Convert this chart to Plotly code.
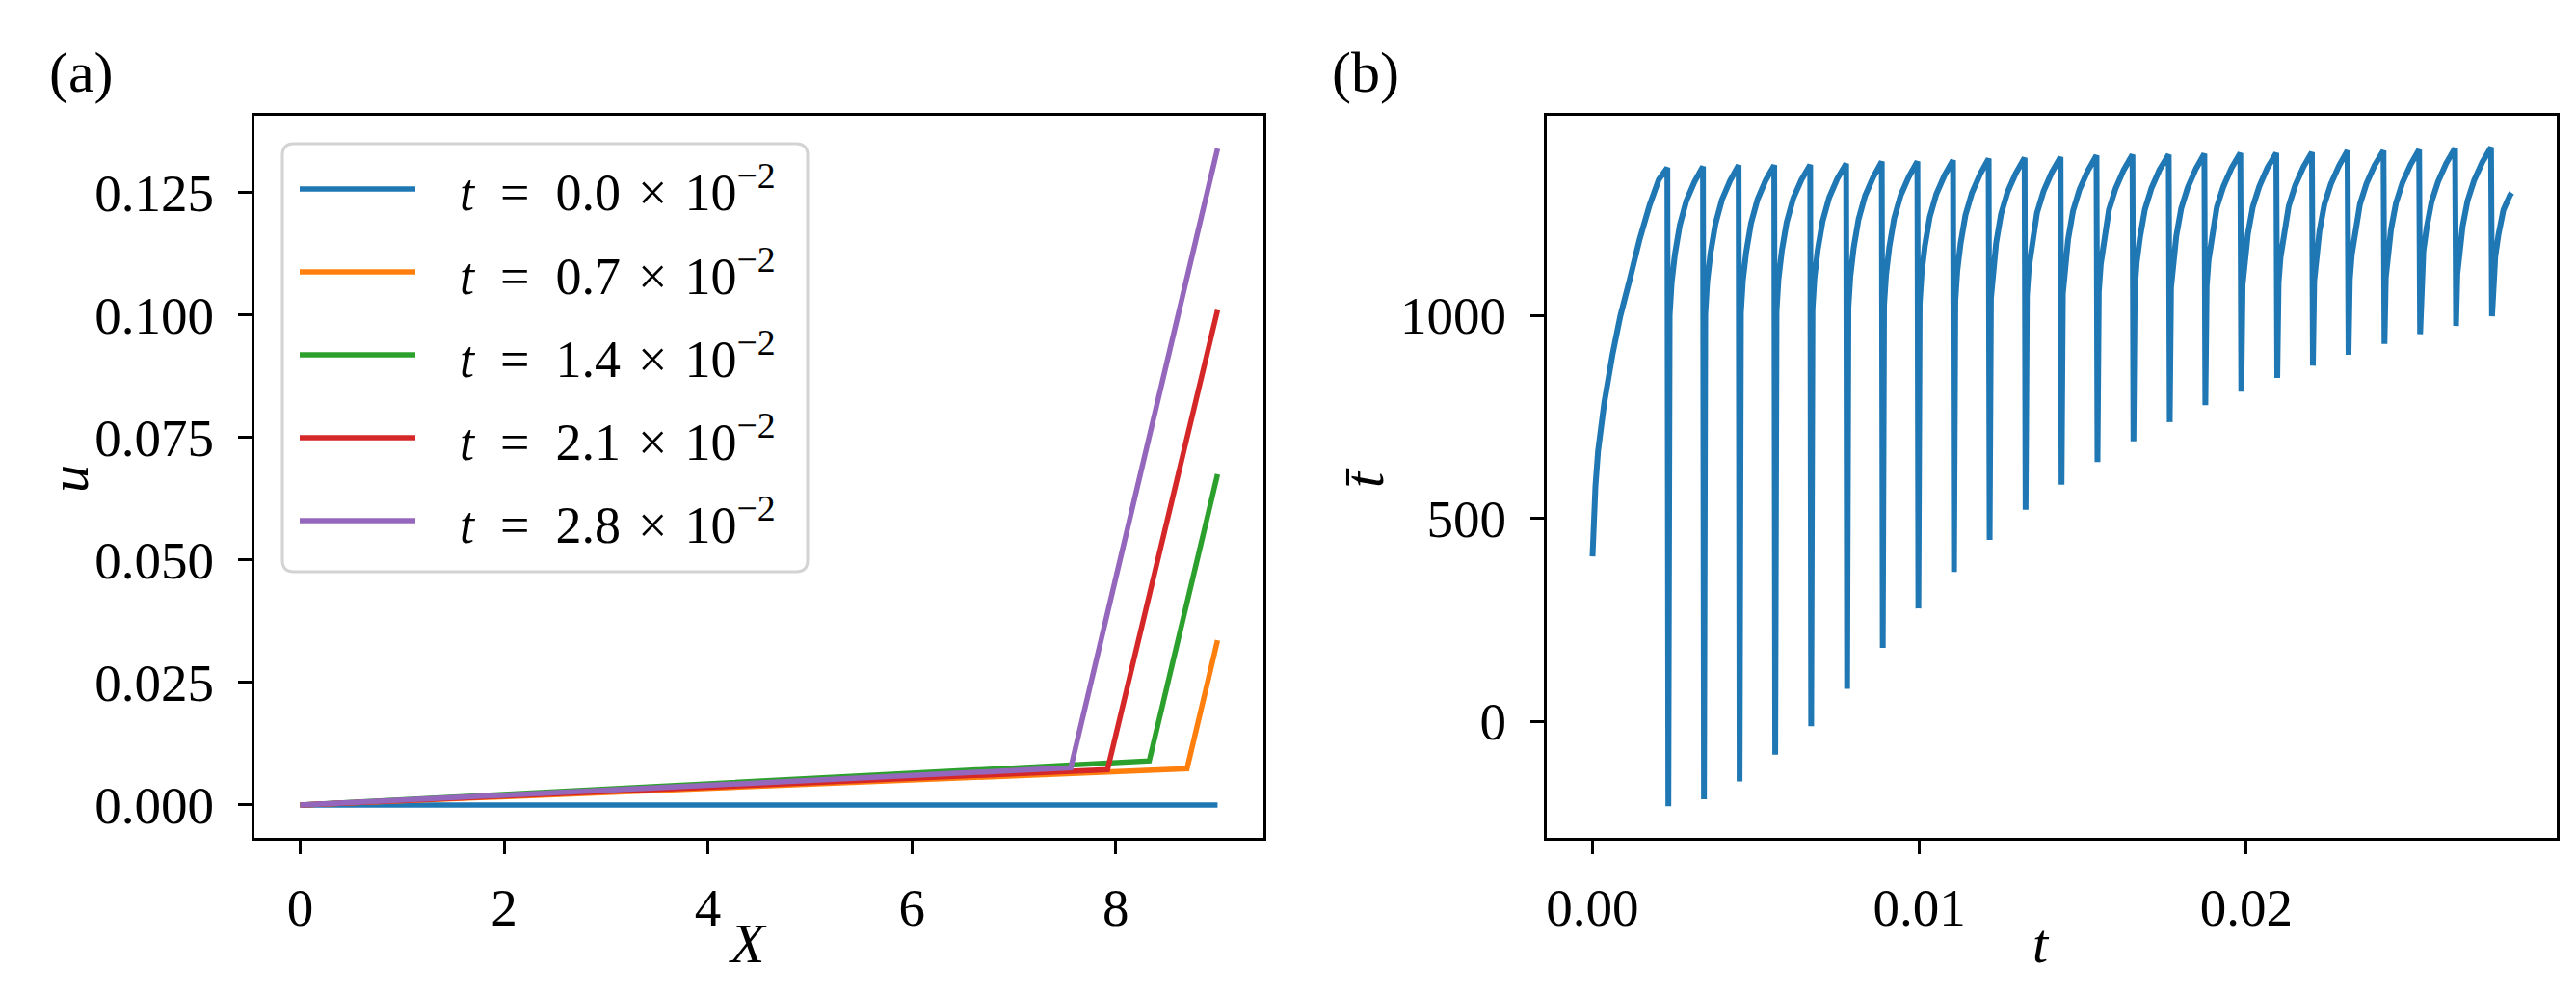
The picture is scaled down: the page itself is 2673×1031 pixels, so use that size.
import plotly.graph_objects as go

W, H = 2673, 1031

# ---- panel (a): u(X) profiles at five times ----
labels_a = ["0.0", "0.7", "1.4", "2.1", "2.8"]
colors = ["#1f77b4", "#ff7f0e", "#2ca02c", "#d62728", "#9467bd"]
X_knee = [4.50, 8.70, 8.33, 7.92, 7.56]
u_knee = [0.0, 0.0074, 0.0090, 0.0072, 0.0076]
X_end = 9.0
u_end = [0.0, 0.0336, 0.0675, 0.1010, 0.1340]

# ---- panel (b): t-bar(t) sawtooth ----
# first rise from t = 0
t_first = [0.0, 0.00004, 0.00009, 0.00017, 0.00036, 0.00061, 0.00085, 0.00115, 0.00144, 0.00174, 0.00203]
tbar_first = [406, 500, 580, 666, 785, 903, 998, 1092, 1187, 1270, 1335]
# drop (reset) times and the minimum reached at each drop
t_reset = [0.00232, 0.00341, 0.00450, 0.00559, 0.00669, 0.00779, 0.00888, 0.00997,
           0.01106, 0.01215, 0.01325, 0.01435, 0.01545, 0.01655, 0.01766, 0.01875,
           0.01985, 0.02095, 0.02204, 0.02313, 0.02423, 0.02532, 0.02642, 0.02752]
tbar_min = [-209, -192, -148, -82, -12, 80, 181, 278, 368, 447, 521, 583,
            639, 690, 737, 779, 812, 846, 876, 903, 930, 954, 974, 998]
# peak reached just before each drop
tbar_peak = [1364, 1367, 1370, 1370, 1371, 1374, 1379, 1379, 1382, 1386, 1388, 1390,
             1394, 1396, 1396, 1398, 1400, 1400, 1402, 1406, 1406, 1408, 1412, 1414]
# rise after each reset, sampled at these delays
rise_dt = [0.00004, 0.00010, 0.00020, 0.00035, 0.00055, 0.00080]
rise_tbar = [
    [1000, 1080, 1150, 1222, 1282, 1329], [1003, 1084, 1153, 1225, 1285, 1332],
    [1006, 1086, 1155, 1227, 1286, 1333], [1010, 1089, 1158, 1229, 1288, 1334],
    [1015, 1092, 1161, 1232, 1290, 1337], [1020, 1097, 1166, 1237, 1295, 1341],
    [1025, 1100, 1168, 1239, 1296, 1342], [1030, 1104, 1172, 1243, 1299, 1345],
    [1036, 1109, 1176, 1247, 1302, 1348], [1042, 1113, 1179, 1250, 1304, 1350],
    [1048, 1118, 1183, 1253, 1306, 1352], [1053, 1122, 1187, 1257, 1310, 1356],
    [1058, 1126, 1190, 1260, 1312, 1358], [1063, 1130, 1192, 1261, 1313, 1359],
    [1068, 1133, 1195, 1263, 1315, 1361], [1072, 1137, 1198, 1266, 1317, 1363],
    [1076, 1140, 1200, 1267, 1318, 1364], [1080, 1143, 1203, 1269, 1320, 1366],
    [1085, 1148, 1207, 1273, 1324, 1369], [1089, 1150, 1209, 1274, 1325, 1370],
    [1093, 1154, 1212, 1276, 1327, 1372], [1098, 1158, 1216, 1280, 1330, 1375],
    [1102, 1162, 1219, 1282, 1332, 1377], [1100, 1145, 1200, 1260, 1296, None],
]
t_last, tbar_last = 0.02812, 1302
drop_dt = 0.00003

fig = go.Figure()

for i in range(len(labels_a)):
    fig.add_trace(go.Scatter(
        x=[0.0, X_knee[i], X_end], y=[0.0, u_knee[i], u_end[i]],
        mode="lines", line=dict(color=colors[i], width=5.5),
        showlegend=False, xaxis="x", yaxis="y"))

ts, vs = list(t_first), list(tbar_first)
for k in range(len(t_reset)):
    ts += [t_reset[k] - drop_dt, t_reset[k]]
    vs += [tbar_peak[k], tbar_min[k]]
    for dt, v in zip(rise_dt, rise_tbar[k]):
        if v is not None:
            ts.append(t_reset[k] + dt)
            vs.append(v)
ts.append(t_last)
vs.append(tbar_last)

fig.add_trace(go.Scatter(x=ts, y=vs, mode="lines",
                         line=dict(color="#1f77b4", width=6),
                         showlegend=False, xaxis="x2", yaxis="y2"))


def px(x):
    return x / W


def py(y):
    return 1 - y / H


font = "Liberation Serif, Times New Roman, serif"
tick_font = dict(family=font, size=55, color="black")
axis_common = dict(showline=True, linecolor="black", linewidth=3, mirror=True,
                   ticks="outside", ticklen=14, tickwidth=3, tickcolor="black",
                   showgrid=False, zeroline=False, tickfont=tick_font)

fig.update_layout(
    width=W, height=H, margin=dict(l=0, r=0, t=0, b=0),
    paper_bgcolor="white", plot_bgcolor="white",
    xaxis=dict(domain=[px(256), px(1303)], range=[-0.45, 9.45],
               tickvals=[0, 2, 4, 6, 8], ticklabelstandoff=8, anchor="y", **axis_common),
    yaxis=dict(domain=[py(861), py(112)], range=[-0.0067, 0.1407],
               tickvals=[0, 0.025, 0.05, 0.075, 0.1, 0.125], tickformat=".3f",
               ticklabelstandoff=14, anchor="x", **axis_common),
    xaxis2=dict(domain=[px(1597), px(2645)], range=[-0.0014, 0.0295],
                tickvals=[0, 0.01, 0.02], tickformat=".2f", ticklabelstandoff=8,
                anchor="y2", **axis_common),
    yaxis2=dict(domain=[py(861), py(112)], range=[-287, 1492],
                tickvals=[0, 500, 1000], ticklabelstandoff=14, anchor="x2", **axis_common),
)

# manual legend box (rounded) for panel (a)
L, T, R, B, r = 285, 141, 830, 585, 12
path = (f"M {px(L + r)},{py(T)} L {px(R - r)},{py(T)} Q {px(R)},{py(T)} {px(R)},{py(T + r)} "
        f"L {px(R)},{py(B - r)} Q {px(R)},{py(B)} {px(R - r)},{py(B)} "
        f"L {px(L + r)},{py(B)} Q {px(L)},{py(B)} {px(L)},{py(B - r)} "
        f"L {px(L)},{py(T + r)} Q {px(L)},{py(T)} {px(L + r)},{py(T)} Z")
fig.add_shape(type="path", path=path, xref="paper", yref="paper",
              line=dict(color="#d3d3d3", width=3), fillcolor="rgba(255,255,255,0.85)")
sp_eq, sp_x = "\u2002", "\u2004"
for i, lab in enumerate(labels_a):
    yc = 188 + 86 * i
    fig.add_shape(type="line", xref="paper", yref="paper",
                  x0=px(303), x1=px(423), y0=py(yc), y1=py(yc),
                  line=dict(color=colors[i], width=5.5))
    fig.add_annotation(x=px(467), y=py(yc), xref="paper", yref="paper",
                       xanchor="left", yanchor="middle", showarrow=False,
                       text=f"<i>t</i>{sp_eq}={sp_eq}{lab}{sp_x}×{sp_x}10<sup>−2</sup>",
                       font=dict(family=font, size=54, color="black"))

texts = [
    ("(a)", 76, 67, 60, False),
    ("(b)", 1409, 67, 60, False),
    ("<i>X</i>", 768, 970, 58, False),
    ("<i>t</i>", 2110, 970, 58, False),
    ("<i>u</i>", 64, 488, 58, True),
    ("<i>t̄</i>", 1408, 488, 58, True),
]
for txt, x, y, size, rot in texts:
    fig.add_annotation(x=px(x), y=py(y), xref="paper", yref="paper",
                       xanchor="center", yanchor="middle", showarrow=False,
                       text=txt, textangle=-90 if rot else 0,
                       font=dict(family=font, size=size, color="black"))

fig.write_html("out.html")
